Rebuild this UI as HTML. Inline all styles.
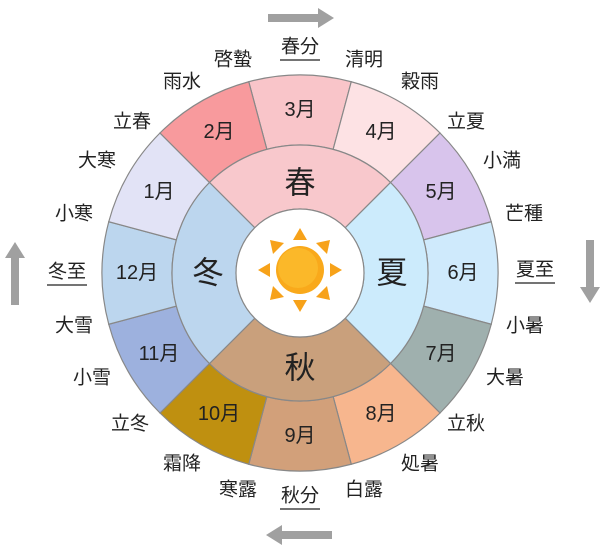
<!DOCTYPE html>
<html><head><meta charset="utf-8"><style>
html,body{margin:0;padding:0;background:#fff}
svg{display:block}
text{font-family:"Liberation Sans","Noto Sans CJK JP",sans-serif;fill:#222}
</style></head><body>
<svg id="s" width="602" height="549" viewBox="0 0 602 549">
<g id="rings"></g>
<circle cx="300" cy="273" r="64" fill="#fff" stroke="#888" stroke-width="1.2"/>
<g transform="translate(300,270)">
<g fill="#f7a21a">
<polygon points="0,-42 -7,-30 7,-30"/><polygon points="0,42 -7,30 7,30"/>
<polygon points="-42,0 -30,-7 -30,7"/><polygon points="42,0 30,-7 30,7"/>
<polygon points="-30,-30 -27,-16 -16,-27"/><polygon points="30,-30 27,-16 16,-27"/>
<polygon points="-30,30 -27,16 -16,27"/><polygon points="30,30 27,16 16,27"/>
</g>
<circle r="24" fill="#f9a91b"/><circle r="20" cx="-2" cy="-2" fill="#fbb829"/>
</g>
<g font-size="20" text-anchor="middle" dominant-baseline="central">
<text x="300" y="110">3月</text><text x="381" y="132">4月</text><text x="441" y="192">5月</text>
<text x="463" y="273">6月</text><text x="441" y="354">7月</text><text x="381" y="414">8月</text>
<text x="300" y="436">9月</text><text x="219" y="414">10月</text><text x="159" y="354">11月</text>
<text x="137" y="273">12月</text><text x="159" y="192">1月</text><text x="219" y="132">2月</text>
</g>
<g font-size="31" text-anchor="middle" dominant-baseline="central">
<text x="300" y="183">春</text><text x="392" y="273">夏</text><text x="300" y="368">秋</text><text x="208" y="273">冬</text>
</g>
<g font-size="19" text-anchor="middle" dominant-baseline="central">
<text x="233" y="60">啓蟄</text><text x="300" y="47">春分</text><text x="364" y="60">清明</text>
<text x="420" y="82">穀雨</text><text x="466" y="122">立夏</text><text x="502" y="161">小満</text>
<text x="524" y="214">芒種</text><text x="535" y="270">夏至</text><text x="525" y="326">小暑</text>
<text x="505" y="378">大暑</text><text x="466" y="424">立秋</text><text x="420" y="464">処暑</text>
<text x="364" y="490">白露</text><text x="300" y="496">秋分</text><text x="238" y="490">寒露</text>
<text x="182" y="464">霜降</text><text x="130" y="424">立冬</text><text x="92" y="378">小雪</text>
<text x="74" y="326">大雪</text><text x="67" y="272">冬至</text><text x="74" y="214">小寒</text>
<text x="97" y="161">大寒</text><text x="132" y="122">立春</text><text x="182" y="82">雨水</text>
</g>
<g stroke="#222" stroke-width="1.2">
<line x1="280" y1="60" x2="320" y2="60"/><line x1="515" y1="283" x2="555" y2="283"/>
<line x1="280" y1="509" x2="320" y2="509"/><line x1="47" y1="285" x2="87" y2="285"/>
</g>
<g fill="#a0a0a0">
<polygon points="268,14 318,14 318,8 334,18 318,28 318,22 268,22"/>
<polygon points="332,531 282,531 282,525 266,535 282,545 282,539 332,539"/>
<polygon points="11,305 11,258 5,258 15,242 25,258 19,258 19,305"/>
<polygon points="586,240 586,287 580,287 590,303 600,287 594,287 594,240"/>
</g>
</svg>
<script>
var cx=300,cy=273,NS="http://www.w3.org/2000/svg",g=document.getElementById("rings");
function pt(r,a){a=a*Math.PI/180;return[(cx+r*Math.sin(a)).toFixed(2),(cy-r*Math.cos(a)).toFixed(2)];}
function sec(r1,r2,a1,a2,f){var p1=pt(r2,a1),p2=pt(r2,a2),p3=pt(r1,a2),p4=pt(r1,a1),L=(a2-a1)>180?1:0;
var d="M"+p1+"A"+r2+","+r2+" 0 "+L+" 1 "+p2+"L"+p3+"A"+r1+","+r1+" 0 "+L+" 0 "+p4+"Z";
var e=document.createElementNS(NS,"path");e.setAttribute("d",d);e.setAttribute("fill",f);e.setAttribute("stroke","#888");e.setAttribute("stroke-width","1.2");g.appendChild(e);}
var mc=["#f9c5c9","#fde2e4","#d8c4ec","#cfeafc","#9fb0ae","#f7b68e","#d2a07a","#bf9010","#9db1de","#bcd6ee","#e2e3f6","#f89a9d"];
for(var i=0;i<12;i++)sec(128,198,i*30-15,i*30+15,mc[i]);
var sc=["#f8c8cc","#ccebfc","#c9a07c","#bcd6ee"];
for(var j=0;j<4;j++)sec(64,128,j*90-45,j*90+45,sc[j]);
</script>
</body></html>
